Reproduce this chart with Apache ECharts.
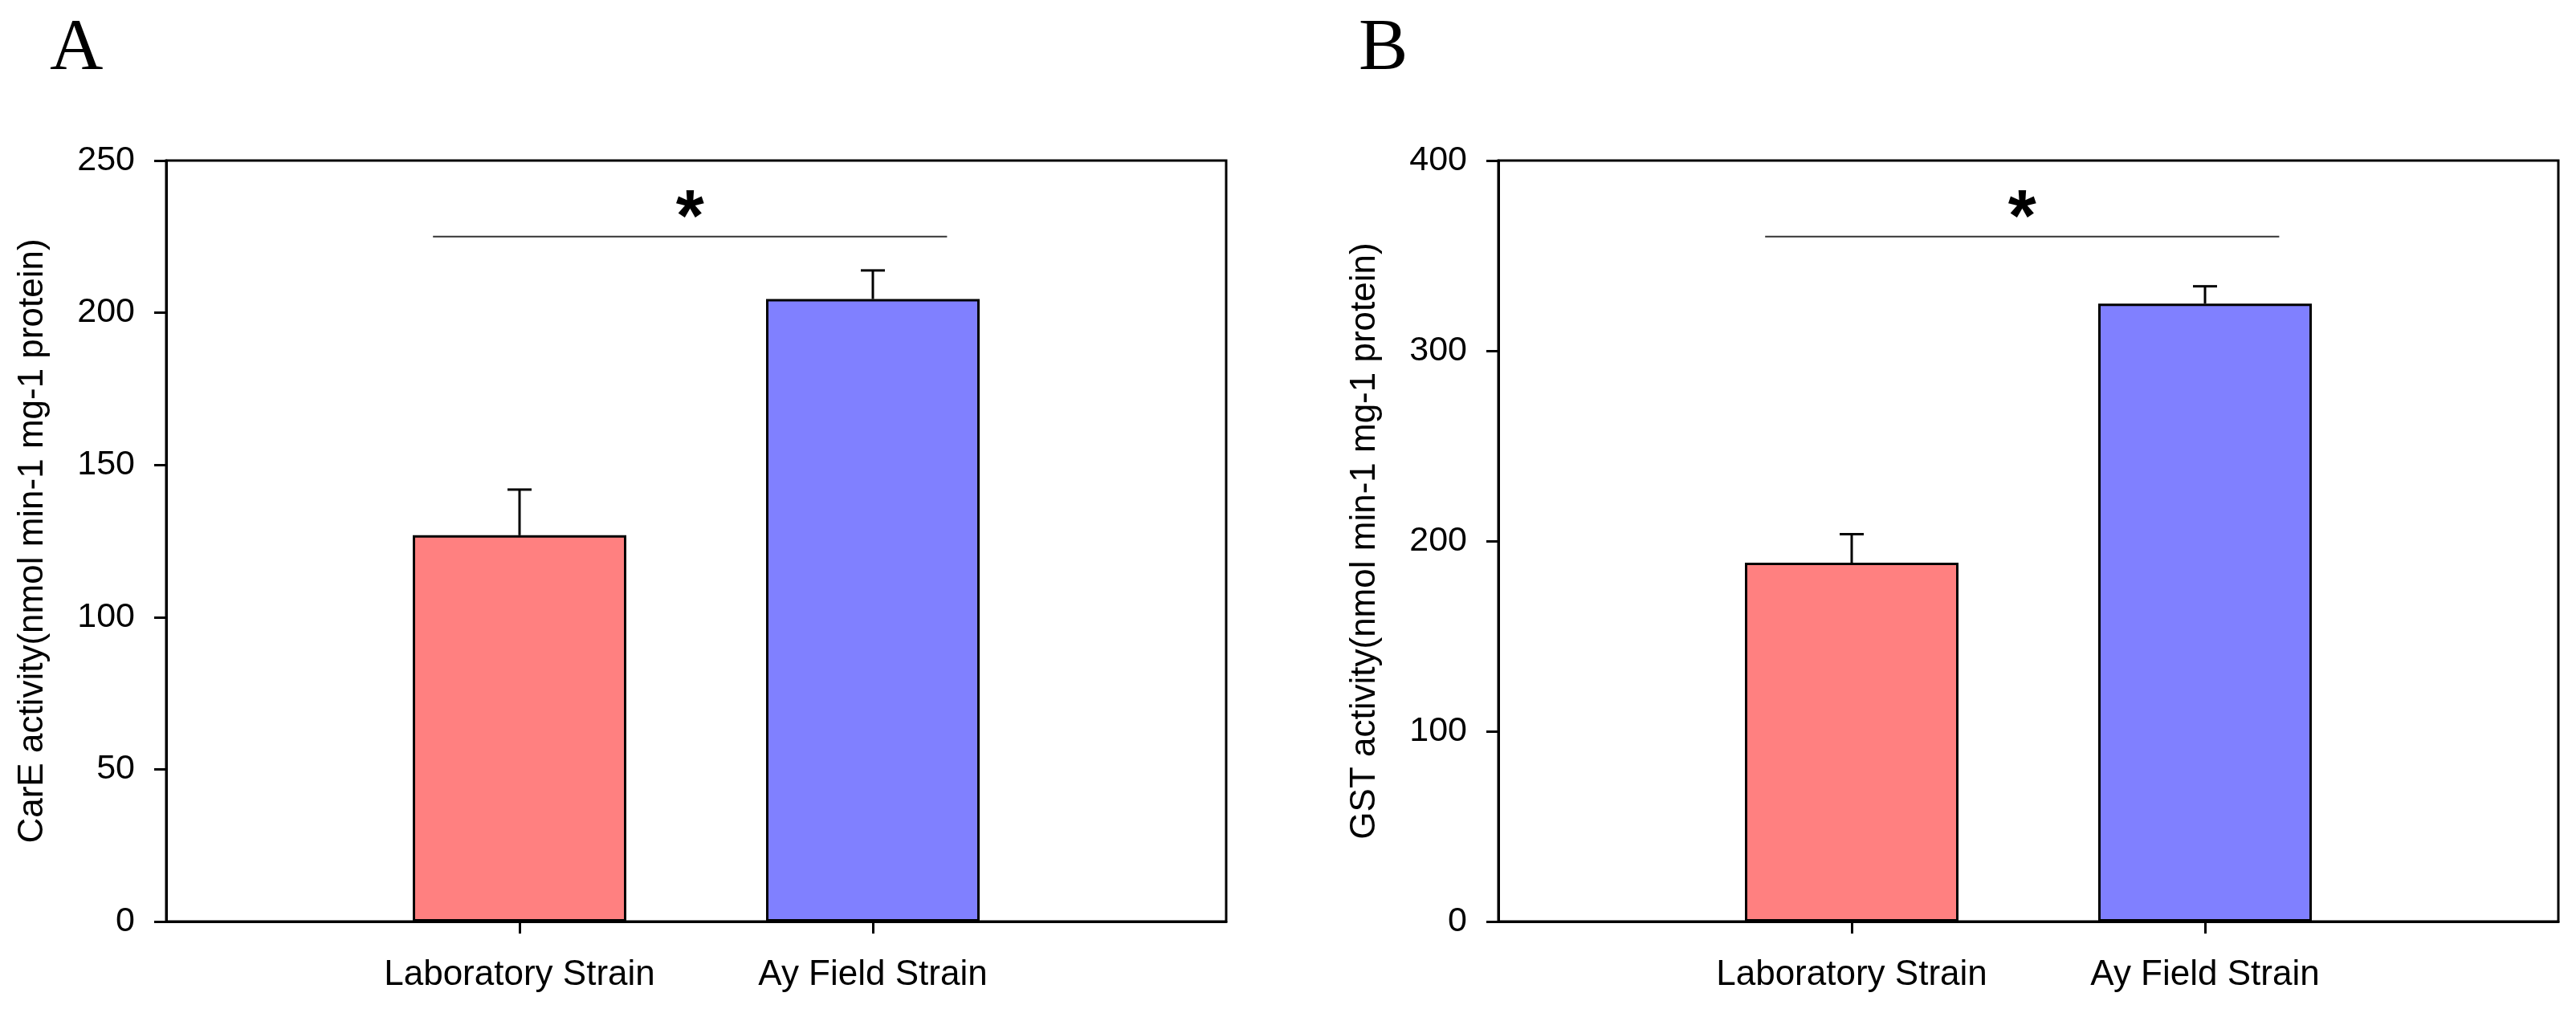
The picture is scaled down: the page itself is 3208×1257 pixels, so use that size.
<!DOCTYPE html>
<html>
<head>
<meta charset="utf-8">
<script src="https://cdn.jsdelivr.net/npm/echarts@6/dist/echarts.min.js"></script>
<style>
  html, body { margin: 0; padding: 0; background: #fff; }
  #chart { width: 3208px; height: 1257px; }
</style>
</head>
<body>
<div id="chart"></div>
<script>
// ---- data ----
const categories = ['Laboratory Strain', 'Ay Field Strain'];
const careMean = [126.9, 204.5];
const careErr = [15.0, 9.4];
const gstMean = [188.6, 324.8];
const gstErr = [15.0, 9.1];
const careTicks = { max: 250, interval: 50 };
const gstTicks = { max: 400, interval: 100 };
const careTitle = 'CarE activity(nmol min-1 mg-1 protein)';
const gstTitle = 'GST activity(nmol min-1 mg-1 protein)';
const panelLabels = ['A', 'B'];
const sigLevel = [225, 360];       // height of the significance line
const sigSpan = [0.755, 2.21];     // x extent of significance line (category units)
const sigText = '*';
const barColors = ['#FF8080', '#8080FF'];

const FONT = '"Liberation Sans", Arial, sans-serif';
const chart = echarts.init(document.getElementById('chart'), null, { renderer: 'canvas' });

const grids = [
  { left: 207, top: 200, width: 1320, height: 948 },
  { left: 1866, top: 200, width: 1320, height: 948 }
];

function xAxisFor(gi) {
  return {
    type: 'value', gridIndex: gi, min: 0, max: 3, interval: 1,
    axisLine: { show: true, onZero: false, lineStyle: { color: '#000', width: 3 } },
    axisTick: { show: true, inside: false, length: 15, customValues: categories.map((c, i) => i + 1), lineStyle: { color: '#000', width: 3 } },
    axisLabel: {
      show: true, margin: 45, color: '#000', fontFamily: FONT, fontSize: 44,
      customValues: categories.map((c, i) => i + 1),
      formatter: v => categories[Math.round(v) - 1] || ''
    },
    splitLine: { show: false }
  };
}
function yAxisFor(gi, ticks, title) {
  return {
    type: 'value', gridIndex: gi, min: 0, max: ticks.max, interval: ticks.interval,
    name: title, nameLocation: 'middle', nameGap: 144, nameRotate: 90,
    nameTextStyle: { color: '#000', fontFamily: FONT, fontSize: 44 },
    axisLine: { show: true, lineStyle: { color: '#000', width: 3 } },
    axisTick: { show: true, inside: false, length: 15, lineStyle: { color: '#000', width: 3 } },
    axisLabel: { show: true, margin: 39, color: '#000', fontFamily: FONT, fontSize: 43 },
    splitLine: { show: false }
  };
}

function barSeries(gi, means) {
  return {
    type: 'bar', xAxisIndex: gi, yAxisIndex: gi, barWidth: 266,
    data: means.map((m, i) => ({
      value: [i + 1, m],
      itemStyle: { color: barColors[i], borderColor: '#000', borderWidth: 3 }
    })),
    z: 2
  };
}
function errSeries(gi, means, errs) {
  return {
    type: 'custom', xAxisIndex: gi, yAxisIndex: gi, z: 3,
    data: means.map((m, i) => [i + 1, m, errs[i]]),
    encode: { x: 0, y: 1 },
    renderItem: function (params, api) {
      const x = api.value(0), m = api.value(1), e = api.value(2);
      const p0 = api.coord([x, m]);
      const p1 = api.coord([x, m + e]);
      const st = { stroke: '#000', lineWidth: 3 };
      return {
        type: 'group',
        children: [
          { type: 'line', shape: { x1: p0[0], y1: p0[1], x2: p1[0], y2: p1[1] }, style: st },
          { type: 'line', shape: { x1: p1[0] - 15, y1: p1[1], x2: p1[0] + 15, y2: p1[1] }, style: st }
        ]
      };
    }
  };
}
function sigSeries(gi, level) {
  return {
    type: 'custom', xAxisIndex: gi, yAxisIndex: gi, z: 4,
    data: [[sigSpan[0], sigSpan[1], level]],
    encode: { x: [0, 1], y: 2 },
    renderItem: function (params, api) {
      const a = api.coord([api.value(0), api.value(2)]);
      const b = api.coord([api.value(1), api.value(2)]);
      return {
        type: 'group',
        children: [
          { type: 'line', shape: { x1: a[0], y1: a[1], x2: b[0], y2: b[1] }, style: { stroke: '#333', lineWidth: 2 } },
          { type: 'text', x: (a[0] + b[0]) / 2, y: a[1] - 20,
            style: { text: sigText, fill: '#000', font: 'bold 90px ' + FONT, align: 'center', verticalAlign: 'middle' } }
        ]
      };
    }
  };
}

const option = {
  backgroundColor: '#fff',
  animation: false,
  grid: grids.map(g => Object.assign({ show: true, borderColor: '#000', borderWidth: 3, backgroundColor: 'transparent', containLabel: false }, g)),
  xAxis: [xAxisFor(0), xAxisFor(1)],
  yAxis: [yAxisFor(0, careTicks, careTitle), yAxisFor(1, gstTicks, gstTitle)],
  series: [
    barSeries(0, careMean), errSeries(0, careMean, careErr), sigSeries(0, sigLevel[0]),
    barSeries(1, gstMean), errSeries(1, gstMean, gstErr), sigSeries(1, sigLevel[1])
  ],
  graphic: [
    { type: 'text', left: 62, top: 16, style: { text: panelLabels[0], font: '92px "Liberation Serif", "Times New Roman", serif', fill: '#000' } },
    { type: 'text', left: 1692, top: 16, style: { text: panelLabels[1], font: '92px "Liberation Serif", "Times New Roman", serif', fill: '#000' } }
  ]
};
chart.setOption(option);
</script>
</body>
</html>
